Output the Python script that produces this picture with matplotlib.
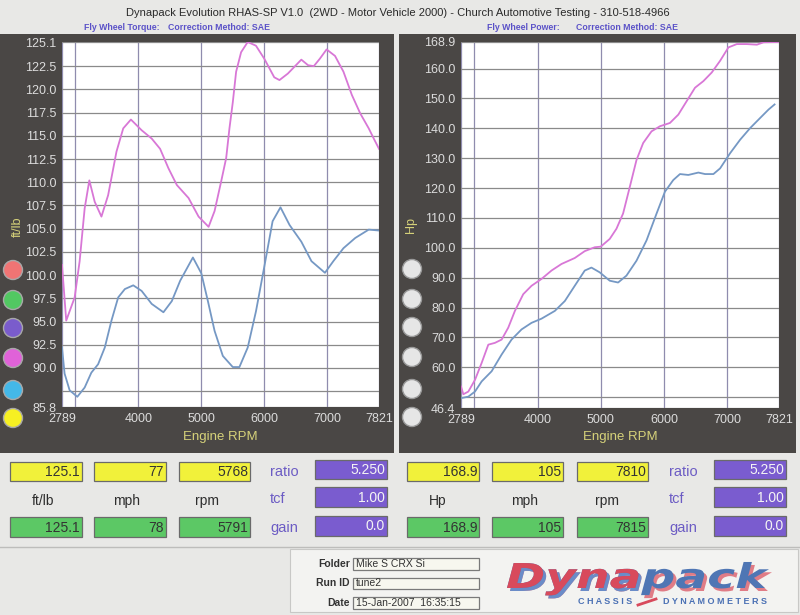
import matplotlib
matplotlib.use('Agg')
import matplotlib.pyplot as plt
from matplotlib.patches import Rectangle, Circle, PathPatch
from matplotlib.textpath import TextPath
from matplotlib.font_manager import FontProperties
from matplotlib.transforms import Affine2D

plt.rcParams['font.family'] = ['Liberation Sans', 'DejaVu Sans']

# torque run 1 (blue) and run 2 (pink), ft/lb
tq1_rpm = [2789, 2830, 2910, 3032, 3149, 3255, 3362, 3468, 3574, 3681, 3787, 3920, 4053, 4213,
           4399, 4532, 4665, 4867, 5000, 5105, 5211, 5342, 5500, 5605, 5737, 5868, 6000, 6132,
           6257, 6401, 6588, 6749, 6963, 7096, 7257, 7444, 7658, 7821]
tq1 = [92.2, 89.4, 87.6, 86.9, 87.9, 89.5, 90.4, 92.2, 95.1, 97.6, 98.5, 98.9, 98.3, 96.9,
       96.0, 97.2, 99.4, 101.9, 100.2, 97.2, 94.0, 91.3, 90.1, 90.1, 92.2, 96.1, 100.9, 105.8,
       107.3, 105.4, 103.6, 101.5, 100.25, 101.5, 102.9, 104.0, 104.9, 104.8]

tq2_rpm = [2789, 2856, 2990, 3069, 3149, 3223, 3308, 3415, 3521, 3654, 3761, 3883, 4053, 4213,
           4346, 4479, 4612, 4798, 4957, 5116, 5211, 5316, 5395, 5447, 5500, 5553, 5632, 5737,
           5868, 6000, 6158, 6241, 6374, 6588, 6695, 6786, 6882, 6989, 7123, 7257, 7390, 7524,
           7658, 7738, 7821]
tq2 = [101.1, 95.1, 97.6, 101.5, 107.2, 110.2, 107.9, 106.3, 108.6, 113.3, 115.8, 116.75, 115.6,
       114.7, 113.6, 111.5, 109.7, 108.3, 106.3, 105.2, 106.9, 110.1, 112.6, 115.8, 118.6, 121.9,
       124.0, 125.1, 124.7, 123.3, 121.3, 121.0, 121.7, 123.2, 122.6, 122.5, 123.3, 124.3, 123.6,
       121.9, 119.4, 117.4, 115.8, 114.7, 113.6]

# power run 1 (blue) and run 2 (pink), Hp
hp1_rpm = [2789, 2905, 3010, 3116, 3274, 3432, 3589, 3747, 3905, 4063, 4274, 4432, 4589, 4747,
           4853, 4984, 5143, 5275, 5407, 5566, 5725, 5884, 6016, 6148, 6254, 6386, 6545, 6651,
           6783, 6889, 7048, 7206, 7365, 7524, 7656, 7751]
hp1 = [49.7, 50.2, 51.9, 55.3, 58.7, 64.3, 69.3, 72.7, 74.9, 76.3, 78.9, 82.2, 87.3, 92.4,
       93.4, 91.8, 89.0, 88.4, 90.7, 95.7, 102.5, 111.5, 118.8, 122.7, 124.7, 124.4, 125.2, 124.7,
       124.7, 126.6, 131.7, 136.2, 140.1, 143.5, 146.3, 148.0]

hp2_rpm = [2789, 2826, 2905, 3010, 3116, 3221, 3326, 3432, 3537, 3642, 3774, 3905, 4063, 4221,
           4379, 4589, 4747, 4905, 5000, 5143, 5249, 5354, 5460, 5566, 5672, 5804, 5937, 6095,
           6228, 6360, 6492, 6624, 6757, 6889, 7021, 7153, 7312, 7471, 7577, 7815]
hp2 = [53.6, 51.0, 51.9, 55.8, 61.5, 67.6, 68.2, 69.3, 73.3, 78.9, 84.5, 87.3, 89.6, 92.4,
       94.6, 96.6, 98.9, 100.2, 100.4, 103.0, 106.4, 111.5, 120.4, 129.4, 135.1, 139.0, 140.7, 141.8,
       144.6, 149.1, 153.6, 155.8, 158.7, 162.6, 167.1, 168.2, 168.2, 168.0, 168.8, 168.9]

x_ticks = [2789, 3000, 4000, 5000, 6000, 7000, 7821]
x_labels = ['2789', '', '4000', '5000', '6000', '7000', '7821']
tq_ticks = [85.8, 87.5, 90.0, 92.5, 95.0, 97.5, 100.0, 102.5, 105.0, 107.5, 110.0, 112.5,
            115.0, 117.5, 120.0, 122.5, 125.1]
hp_ticks = [46.4, 50, 60, 70, 80, 90, 100, 110, 120, 130, 140, 150, 160, 168.9]

# readout panels
tq_readout = [['125.1', '77', '5768'], ['125.1', '78', '5791']]
hp_readout = [['168.9', '105', '7810'], ['168.9', '105', '7815']]
settings = ['5.250', '1.00', '0.0']
setting_names = ['ratio', 'tcf', 'gain']
run_info = [('Folder', 'Mike S CRX Si'), ('Run ID', 'tune2'), ('Date', '15-Jan-2007  16:35:15')]
dot_colors = ['#f07474', '#52c862', '#7a5ccc', '#e062d8', '#44b8e8', '#f6f022']

W, H = 800, 615
fig = plt.figure(figsize=(8, 6.15), dpi=100)
fig.patch.set_facecolor('#e8e8e6')
bg = fig.add_axes([0, 0, 1, 1])
bg.set_xlim(0, W)
bg.set_ylim(H, 0)
bg.axis('off')


def px_axes(x0, y0, x1, y1):
    return fig.add_axes([x0 / W, 1 - y1 / H, (x1 - x0) / W, (y1 - y0) / H])


def box(x0, y0, x1, y1, fc, ec='#6a6a6a'):
    bg.add_patch(Rectangle((x0, y0), x1 - x0, y1 - y0, fc=fc, ec=ec, lw=0.9))


# header
bg.text(398, 13, 'Dynapack Evolution RHAS-SP V1.0  (2WD - Motor Vehicle 2000) - Church Automotive Testing - 310-518-4966',
        ha='center', va='center', fontsize=8, color='#2a2a2a')
for x, t in [(84, 'Fly Wheel Torque:'), (168, 'Correction Method: SAE'),
             (487, 'Fly Wheel Power:'), (576, 'Correction Method: SAE')]:
    bg.text(x, 27, t, ha='left', va='center', fontsize=6.3, color='#5b52c8', weight='bold')

# dark frames
bg.add_patch(Rectangle((0, 34), 394, 419, fc='#4a4745', ec='none'))
bg.add_patch(Rectangle((399, 34), 397, 419, fc='#4a4745', ec='none'))


def dyno_axes(rect, ylim, yticks, ylabels, blue_x, blue_y, pink_x, pink_y):
    ax = px_axes(*rect)
    ax.set_facecolor('white')
    ax.plot(blue_x, blue_y, color='#7598c4', lw=1.3, solid_joinstyle='round')
    ax.plot(pink_x, pink_y, color='#d877d6', lw=1.3, solid_joinstyle='round')
    ax.set_xlim(2789, 7821)
    ax.set_ylim(*ylim)
    ax.set_xticks(x_ticks)
    ax.set_xticklabels(x_labels)
    ax.set_yticks(yticks)
    ax.set_yticklabels(ylabels)
    ax.tick_params(length=0, colors='#dcdcdc', labelsize=9, pad=4)
    ax.grid(axis='y', color='#8a8a8a', lw=0.9)
    ax.grid(axis='x', color='#8f8cae', lw=0.9)
    ax.set_axisbelow(True)
    for s in ax.spines.values():
        s.set_visible(False)
    return ax


dyno_axes((62, 42, 379, 407), (85.8, 125.1), tq_ticks,
          ['' if v == 87.5 else '%.1f' % v for v in tq_ticks], tq1_rpm, tq1, tq2_rpm, tq2)
dyno_axes((461, 42, 779, 408), (46.4, 168.9), hp_ticks,
          ['' if v == 50 else '%.1f' % v for v in hp_ticks], hp1_rpm, hp1, hp2_rpm, hp2)

for x in (220, 620):
    bg.text(x, 437, 'Engine RPM', ha='center', va='center', fontsize=9.5, color='#d6d27a')
bg.text(18, 227, 'ft/lb', rotation=90, ha='center', va='center', fontsize=9, color='#d6d27a')
bg.text(411, 225, 'Hp', rotation=90, ha='center', va='center', fontsize=9, color='#d6d27a')

dot_y = [270, 300, 328, 358, 390, 418]
for c, y in zip(dot_colors, dot_y):
    bg.add_patch(Circle((13, y), 9.5, fc=c, ec='#a8a8a8', lw=1))
    bg.add_patch(Circle((412, y - 1), 9.5, fc='#e6e6e6', ec='#9a9a9a', lw=1))

# readout panels
bg.plot([0, 800], [547, 547], color='#bdbdbb', lw=1)


def readout(vals, unit, xs, lab_x, name_x, set_x):
    for row, (y0, y1, fc) in enumerate([(462, 481, '#f1f13a'), (517, 537, '#5cc865')]):
        for (x0, x1), v in zip(xs, vals[row]):
            box(x0, y0, x1, y1, fc)
            bg.text(x1 - 2, (y0 + y1) / 2 + 0.5, v, ha='right', va='center', fontsize=10,
                    color='#333333')
    for x, t in zip(lab_x, [unit, 'mph', 'rpm']):
        bg.text(x, 501, t, ha='center', va='center', fontsize=10, color='#2e2e2e')
    for (y0, y1), name, v in zip([(460, 479), (487, 507), (516, 536)], setting_names, settings):
        box(set_x, y0, set_x + 72, y1, '#7a5ccf')
        bg.text(set_x + 70, (y0 + y1) / 2 + 0.5, v, ha='right', va='center', fontsize=10,
                color='#f4f4f4')
        bg.text(name_x, (y0 + y1) / 2 + 2, name, ha='left', va='center', fontsize=10.5,
                color='#6c5cc4')


readout(tq_readout, 'ft/lb', [(10, 82), (94, 166), (179, 250)], [43, 127, 207], 270, 315)
readout(hp_readout, 'Hp', [(407, 479), (492, 563), (577, 648)], [438, 525, 607], 669, 714)

# run info strip
bg.add_patch(Rectangle((290, 549), 508, 63, fc='#f3f3f1', ec='#c8c8c6', lw=0.8))
for (name, val), (y0, y1) in zip(run_info, [(558, 570), (578, 589), (597, 609)]):
    box(353, y0, 479, y1, '#f7f7ef', '#7a7a7a')
    bg.text(350, (y0 + y1) / 2, name, ha='right', va='center', fontsize=7.5, weight='bold', color='#333333')
    bg.text(356, (y0 + y1) / 2, val, ha='left', va='center', fontsize=7.5, color='#333333')

# logo
fp = FontProperties(family='DejaVu Sans', weight='bold', style='italic')
full = TextPath((0, 0), 'Dynapack', size=1, prop=fp)
dyna = TextPath((0, 0), 'Dyna', size=1, prop=fp)
ext = full.get_extents()
sx = 262 / ext.width
sy = 25 / 0.73


def logo_part(path, dx, dy, color):
    tr = Affine2D().translate(-ext.x0, 0).scale(sx, -sy).translate(507 + dx, 588 + dy)
    bg.add_patch(PathPatch(tr.transform_path(path), fc=color, ec='none'))


logo_part(full, 3, 3, '#e07c86')
logo_part(dyna, 3, 3, '#6a8cc8')
logo_part(full, 0, 0, '#4f76b4')
logo_part(dyna, 0, 0, '#d84a5c')
bg.text(605, 602, 'C H A S S I S', ha='center', va='center', fontsize=6.5, color='#4a70b4', weight='bold')
bg.text(715, 602, 'D Y N A M O M E T E R S', ha='center', va='center', fontsize=6.5, color='#4a70b4', weight='bold')
bg.plot([638, 656], [605, 599], color='#d84a5c', lw=2)

fig.savefig('out.png', dpi=100, facecolor=fig.get_facecolor())
